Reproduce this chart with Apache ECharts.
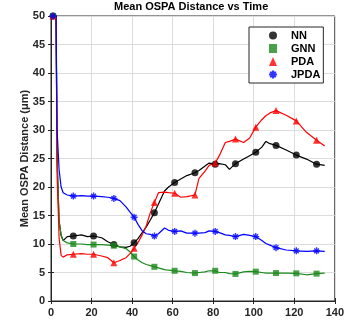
<!DOCTYPE html>
<html>
<head>
<meta charset="utf-8">
<script src="https://cdn.jsdelivr.net/npm/echarts@6/dist/echarts.min.js"></script>
<style>
  html, body { margin: 0; padding: 0; background: #fff; }
  #chart { width: 347px; height: 325px; }
</style>
</head>
<body>
<div id="chart"></div>
<script>
// sample times (x) shared by all four curves
const time = [1, 2.5, 3, 4, 5, 6, 8, 11, 15, 18,
  21, 25, 28, 31, 34, 37, 39, 41, 43, 45,
  47, 49, 51, 53, 56, 58, 61, 64, 67, 71,
  73, 76, 78, 81, 83, 86, 88, 91, 95, 98,
  101, 104, 106, 108, 111, 116, 121, 126, 131, 135];

const nn = [50, 50, 25, 14, 11.5, 10.6, 11.3, 11.4, 11.6, 11.3,
  11.4, 11.1, 10.4, 9.9, 9.5, 9.4, 9.6, 10.2, 11.0, 12.0,
  13.0, 14.2, 15.5, 17.0, 19.3, 20.0, 20.8, 21.4, 22.0, 22.5,
  22.9, 23.7, 24.2, 24.0, 24.1, 23.9, 23.1, 24.1, 24.9, 25.5,
  26.1, 27.0, 28.0, 27.6, 27.3, 26.5, 25.6, 24.9, 24.0, 23.8];

const gnn = [50, 50, 25, 14, 11.5, 10.6, 10.2, 10.0, 10.0, 9.9,
  9.9, 9.9, 9.8, 9.7, 9.5, 9.2, 8.6, 7.8, 7.2, 6.7,
  6.4, 6.2, 6.0, 5.8, 5.5, 5.4, 5.3, 5.2, 5.0, 4.9,
  5.0, 5.1, 5.3, 5.3, 5.0, 5.0, 4.8, 4.75, 5.1, 5.2,
  5.15, 5.0, 4.9, 4.9, 4.9, 4.9, 4.85, 4.6, 4.8, 4.9];

const pda = [50, 50, 22, 11, 8.0, 7.7, 8.1, 8.2, 8.3, 8.2,
  8.2, 7.9, 7.6, 6.7, 7.1, 7.6, 8.3, 9.25, 10.3, 11.6,
  13.2, 15.5, 17.3, 19.0, 19.1, 19.0, 18.9, 18.2, 18.3, 18.6,
  21.5, 22.8, 23.8, 24.2, 25.5, 27.8, 28.0, 28.4, 27.8, 28.6,
  30.5, 31.8, 32.5, 33.0, 33.4, 32.6, 31.6, 29.6, 28.2, 27.2];

const jpda = [50, 50, 30, 23, 20, 19.0, 18.6, 18.4, 18.5, 18.4,
  18.4, 18.3, 18.2, 18.0, 17.6, 16.5, 15.6, 14.7, 13.4, 12.3,
  11.8, 11.7, 11.4, 11.8, 12.8, 12.4, 12.2, 12.3, 11.9, 11.9,
  11.9, 12.0, 12.3, 12.2, 12.0, 11.6, 11.5, 11.3, 11.7, 11.5,
  11.3, 10.6, 10.1, 9.8, 9.35, 8.95, 8.8, 8.7, 8.8, 8.7];

// markers drawn every 10 samples
const markTime = [1, 11, 21, 31, 41, 51, 61, 71, 81, 91, 101, 111, 121, 131];

const names = ['NN', 'GNN', 'PDA', 'JPDA'];
const colors = ['#000000', '#1a8a1a', '#ff0000', '#0000ff'];
const asterisk = 'path://M5 0L5 10M0 5L10 5M1.6 1.6L8.4 8.4M1.6 8.4L8.4 1.6';
const symbols = ['circle', 'rect', 'triangle', asterisk];
const sizes = [7, 6, 7, 7];

const font = 'Liberation Sans, Arial, sans-serif';
const values = [nn, gnn, pda, jpda];

const lineSeries = values.map((v, i) => ({
  name: names[i] + ' line',
  type: 'line',
  data: time.map((t, k) => [t, v[k]]),
  showSymbol: false,
  symbol: 'none',
  lineStyle: { color: colors[i], width: 1.2 },
  z: 2 + i,
}));

const markSeries = values.map((v, i) => ({
  name: names[i],
  type: 'scatter',
  data: markTime.map(t => [t, v[time.indexOf(t)]]),
  symbol: symbols[i],
  symbolSize: sizes[i],
  itemStyle: i === 3
    ? { color: colors[i], borderColor: colors[i], borderWidth: 1.4 }
    : { color: colors[i] },
  z: 10 + i,
}));

const chart = echarts.init(document.getElementById('chart'));

const axisText = { color: '#262626', fontSize: 11, fontWeight: 'bold', fontFamily: font };

chart.setOption({
  animation: false,
  title: {
    text: 'Mean OSPA Distance vs Time',
    left: 114, top: 1, padding: 0,
    textStyle: { color: '#000', fontSize: 11, fontWeight: 'bold', fontFamily: font },
  },
  legend: {
    data: names,
    orient: 'vertical',
    left: 249, top: 27,
    padding: [2, 3, 2, 19],
    itemWidth: 8, itemHeight: 9, itemGap: 0,
    backgroundColor: '#fff',
    borderColor: '#262626', borderWidth: 1,
    textStyle: {
      color: '#000', fontSize: 11, fontWeight: 'bold', fontFamily: font,
      lineHeight: 13, padding: [0, 0, 0, 9],
    },
  },
  grid: {
    left: 51, right: 12, top: 16, bottom: 24,
    show: true, borderColor: '#262626', borderWidth: 1,
  },
  xAxis: [{
    type: 'value', min: 0, max: 140, interval: 20,
    axisLine: { lineStyle: { color: '#262626' } },
    axisTick: { inside: true, length: 3, lineStyle: { color: '#262626' } },
    axisLabel: { ...axisText, margin: 6 },
    splitLine: { lineStyle: { color: '#dcdcdc' } },
  }, {
    type: 'value', min: 0, max: 140, interval: 20, position: 'top',
    axisLine: { lineStyle: { color: '#262626' } },
    axisTick: { inside: true, length: 3, lineStyle: { color: '#262626' } },
    axisLabel: { show: false },
    splitLine: { show: false },
  }],
  yAxis: [{
    type: 'value', min: 0, max: 50, interval: 5,
    name: 'Mean OSPA Distance (μm)',
    nameLocation: 'middle', nameGap: 21, nameMoveOverlap: false,
    nameTextStyle: axisText,
    axisLine: { show: true, lineStyle: { color: '#262626' } },
    axisTick: { show: true, inside: true, length: 3, lineStyle: { color: '#262626' } },
    axisLabel: { ...axisText, margin: 6 },
    splitLine: { lineStyle: { color: '#dcdcdc' } },
  }, {
    type: 'value', min: 0, max: 50, interval: 5, position: 'right',
    axisLine: { show: true, lineStyle: { color: '#262626' } },
    axisTick: { show: true, inside: true, length: 3, lineStyle: { color: '#262626' } },
    axisLabel: { show: false },
    splitLine: { show: false },
  }],
  series: [...lineSeries, ...markSeries],
});
</script>
</body>
</html>
